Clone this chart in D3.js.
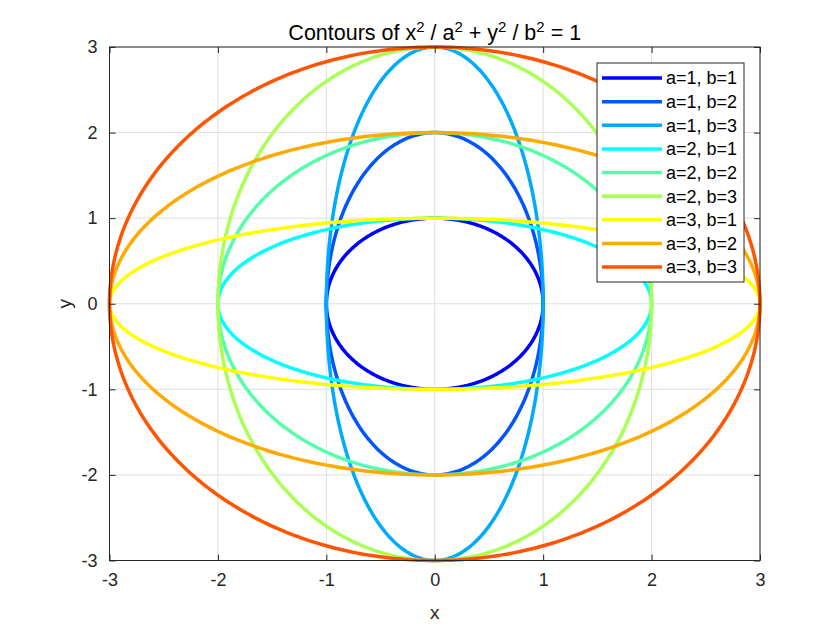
<!DOCTYPE html>
<html><head><meta charset="utf-8">
<script src="https://cdn.jsdelivr.net/npm/d3@7"></script>
<style>body{margin:0;background:#fff}text{font-family:"Liberation Sans",Arial,sans-serif}</style>
</head><body><svg id="c" width="840" height="630"></svg>
<script>
const aVals = [1,1,1,2,2,2,3,3,3];
const bVals = [1,2,3,1,2,3,1,2,3];
const labels = ["a=1, b=1","a=1, b=2","a=1, b=3","a=2, b=1","a=2, b=2","a=2, b=3","a=3, b=1","a=3, b=2","a=3, b=3"];
const colors = ["#0000ff","#0055ff","#00aaff","#00ffff","#55ffaa","#aaff55","#ffff00","#ffaa00","#ff5500"];
const xTicks = [-3,-2,-1,0,1,2,3];
const yTicks = [-3,-2,-1,0,1,2,3];

const svg = d3.select("#c");
const L=109.5, R=760, T=47, B=560.5;
const x = d3.scaleLinear().domain([-3,3]).range([L,R]);
const y = d3.scaleLinear().domain([-3,3]).range([B,T]);
const fmt = d => String(d);

svg.append("rect").attr("x",0).attr("y",0).attr("width",840).attr("height",630).attr("fill","#fff");

// grid
const g = svg.append("g");
g.selectAll(".gx").data(xTicks).enter().append("line")
  .attr("x1",d=>x(d)).attr("x2",d=>x(d)).attr("y1",T).attr("y2",B)
  .attr("stroke","#dfdfdf").attr("stroke-width",1);
g.selectAll(".gy").data(yTicks).enter().append("line")
  .attr("y1",d=>y(d)).attr("y2",d=>y(d)).attr("x1",L).attr("x2",R)
  .attr("stroke","#dfdfdf").attr("stroke-width",1);

// curves
const N = 360;
const thetas = d3.range(N+1).map(i => i/N*2*Math.PI);
const line = d3.line().x(d=>x(d[0])).y(d=>y(d[1]));
const plot = svg.append("g");
aVals.forEach((a,i)=>{
  const b = bVals[i];
  const pts = thetas.map(t=>[a*Math.cos(t), b*Math.sin(t)]);
  plot.append("path").attr("d",line(pts)).attr("fill","none")
    .attr("stroke",colors[i]).attr("stroke-width",3.5).attr("stroke-linejoin","round");
});

// axes box
svg.append("rect").attr("x",L).attr("y",T).attr("width",R-L).attr("height",B-T)
  .attr("fill","none").attr("stroke","#262626").attr("stroke-width",1);

const xb = svg.append("g").attr("transform",`translate(0,${B})`)
  .call(d3.axisBottom(x).tickValues(xTicks).tickSize(-6).tickPadding(11).tickFormat(fmt));
const xt = svg.append("g").attr("transform",`translate(0,${T})`)
  .call(d3.axisTop(x).tickValues(xTicks).tickSize(-6).tickFormat(""));
const yl = svg.append("g").attr("transform",`translate(${L},0)`)
  .call(d3.axisLeft(y).tickValues(yTicks).tickSize(-6).tickPadding(12).tickFormat(fmt));
const yr = svg.append("g").attr("transform",`translate(${R},0)`)
  .call(d3.axisRight(y).tickValues(yTicks).tickSize(-6).tickFormat(""));
[xb,xt,yl,yr].forEach(ax=>{
  ax.select(".domain").remove();
  ax.selectAll("line").attr("stroke","#262626");
  ax.selectAll("text").attr("fill","#262626").style("font-size","18px").style("font-family","'Liberation Sans',Arial,sans-serif");
});
xb.selectAll("text").attr("dy","0.8em");

// axis labels
svg.append("text").attr("x",(L+R)/2).attr("y",619).attr("text-anchor","middle")
  .attr("fill","#262626").style("font-size","19px").text("x");
svg.append("text").attr("transform",`translate(71,${(T+B)/2}) rotate(-90)`).attr("text-anchor","middle")
  .attr("fill","#262626").style("font-size","19px").text("y");

// title
const title = svg.append("text").attr("x",(L+R)/2).attr("y",40).attr("text-anchor","middle")
  .attr("fill","#000").style("font-size","21.5px");
const parts = [["Contours of x",0],["2",1],[" / a",0],["2",1],[" + y",0],["2",1],[" / b",0],["2",1],[" = 1",0]];
parts.forEach((p,i)=>{
  const ts = title.append("tspan").text(p[0]);
  if(p[1]) ts.attr("dy",-8).style("font-size","15px");
  else if(i>0) ts.attr("dy",8);
});

// legend
const lg = svg.append("g");
const lx=597, ly=63, lw=147, lh=219;
lg.append("rect").attr("x",lx).attr("y",ly).attr("width",lw).attr("height",lh)
  .attr("fill","#fff").attr("stroke","#262626").attr("stroke-width",1);
const ey = d3.scaleLinear().domain([0,8]).range([78,267]);
labels.forEach((lab,i)=>{
  lg.append("line").attr("x1",602).attr("x2",662).attr("y1",ey(i)).attr("y2",ey(i))
    .attr("stroke",colors[i]).attr("stroke-width",3.5);
  lg.append("text").attr("x",666).attr("y",ey(i)).attr("dy","0.36em")
    .attr("fill","#000").style("font-size","18px").text(lab);
});
</script></body></html>
